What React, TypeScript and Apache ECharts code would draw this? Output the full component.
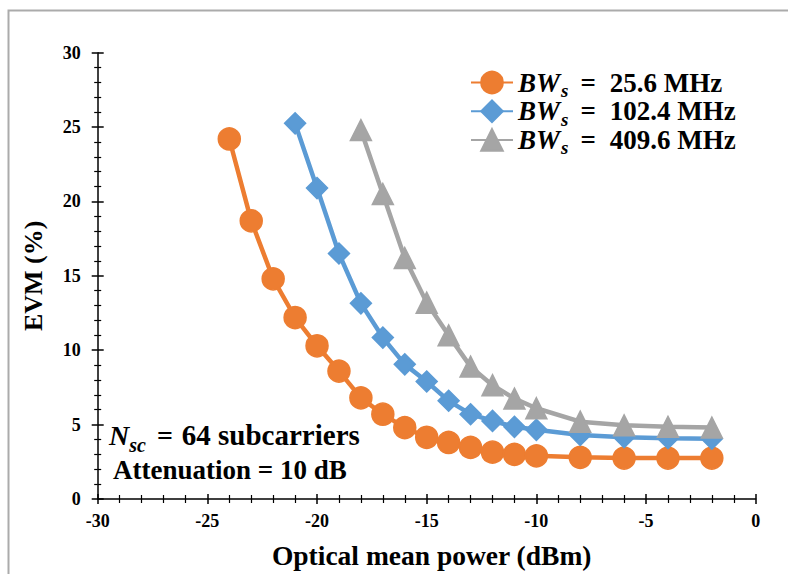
import React, { useEffect, useRef } from "react";
import * as echarts from "echarts";

const xOrange = [-24, -23, -22, -21, -20, -19, -18, -17, -16, -15, -14, -13, -12, -11, -10, -8, -6, -4, -2];
const yOrange = [24.2, 18.7, 14.8, 12.2, 10.3, 8.6, 6.8, 5.7, 4.8, 4.15, 3.8, 3.47, 3.15, 3.0, 2.9, 2.8, 2.75, 2.75, 2.75];

const xBlue = [-21, -20, -19, -18, -17, -16, -15, -14, -13, -12, -11, -10, -8, -6, -4, -2];
const yBlue = [25.25, 20.9, 16.5, 13.15, 10.85, 9.05, 7.9, 6.6, 5.7, 5.25, 4.85, 4.65, 4.3, 4.15, 4.08, 4.05];

const xGray = [-18, -17, -16, -15, -14, -13, -12, -11, -10, -8, -6, -4, -2];
const yGray = [24.8, 20.5, 16.2, 13.2, 11.0, 8.9, 7.65, 6.75, 6.1, 5.2, 4.95, 4.85, 4.8];

const seriesNames = ["BW25", "BW102", "BW409"];
const legendValues = ["25.6 MHz", "102.4 MHz", "409.6 MHz"];
const xTitle = "Optical mean power (dBm)";
const yTitle = "EVM (%)";
const note1 = ["N", "sc", "=", "64 subcarriers"];
const note2 = "Attenuation = 10 dB";

const FONT = "'Liberation Serif', 'Times New Roman', serif";
const ORANGE = "#ED7D31";
const BLUE = "#5B9BD5";
const GRAY = "#A5A5A5";

function pairs(xs: number[], ys: number[]) {
  return xs.map((x, i) => [x, ys[i]]);
}

export default function App() {
  const ref = useRef<HTMLDivElement>(null);
  useEffect(() => {
    if (!ref.current) return;
    const chart = echarts.init(ref.current, null, { renderer: "svg" });
    const mkSeries = (name: string, data: number[][], color: string, symbol: string, size: number) => ({
      name,
      type: "line",
      xAxisIndex: 0,
      yAxisIndex: 0,
      data,
      symbol,
      symbolSize: size,
      lineStyle: { color, width: 4.5 },
      itemStyle: { color, borderColor: color, borderWidth: 1.5 },
      z: 3,
    });
    const legendMap: Record<string, string> = {};
    seriesNames.forEach((n, i) => (legendMap[n] = legendValues[i]));
    const commonAxisLabel = {
      fontFamily: FONT,
      fontWeight: "bold",
      fontSize: 18,
      color: "#000",
    };
    chart.setOption({
      animation: false,
      backgroundColor: "#fff",
      grid: { left: 97.7, right: 32.3, top: 52.7, bottom: 74, containLabel: false },
      xAxis: [
        {
          type: "value",
          min: -30,
          max: 0,
          interval: 5,
          position: "bottom",
          axisLine: { show: true, onZero: false, lineStyle: { color: "#000", width: 1.5 } },
          axisTick: { show: true, length: 5, lineStyle: { color: "#000", width: 1.5 } },
          minorTick: { show: true, splitNumber: 5, length: 4, lineStyle: { color: "#000", width: 1.2 } },
          splitLine: { show: false },
          axisLabel: { ...commonAxisLabel, margin: 13 },
          name: xTitle,
          nameLocation: "middle",
          nameGap: 42,
          nameTextStyle: { fontFamily: FONT, fontWeight: "bold", fontSize: 27.5, color: "#000", padding: [0, 0, 0, 10] },
        },
        {
          type: "value",
          min: -30,
          max: 0,
          interval: 5,
          position: "bottom",
          axisLine: { show: false, onZero: false },
          axisTick: { show: true, inside: true, length: 5, lineStyle: { color: "#000", width: 1.5 } },
          minorTick: { show: true, splitNumber: 5, length: 4, lineStyle: { color: "#000", width: 1.2 } },
          splitLine: { show: false },
          axisLabel: { show: false },
        },
      ],
      yAxis: [
        {
          type: "value",
          min: 0,
          max: 30,
          interval: 5,
          position: "left",
          axisLine: { show: true, onZero: false, lineStyle: { color: "#000", width: 1.5 } },
          axisTick: { show: true, length: 6, lineStyle: { color: "#000", width: 1.5 } },
          minorTick: { show: true, splitNumber: 5, length: 3.5, lineStyle: { color: "#000", width: 1.2 } },
          splitLine: { show: false },
          axisLabel: { ...commonAxisLabel, margin: 17 },
          name: yTitle,
          nameLocation: "middle",
          nameGap: 51,
          nameRotate: 90,
          nameTextStyle: { fontFamily: FONT, fontWeight: "bold", fontSize: 26, color: "#000" },
        },
        {
          type: "value",
          min: 0,
          max: 30,
          interval: 5,
          position: "left",
          axisLine: { show: false, onZero: false },
          axisTick: { show: true, inside: true, length: 6, lineStyle: { color: "#000", width: 1.5 } },
          minorTick: { show: true, splitNumber: 5, length: 3.5, lineStyle: { color: "#000", width: 1.2 } },
          splitLine: { show: false },
          axisLabel: { show: false },
        },
      ],
      legend: {
        orient: "vertical",
        left: 465,
        top: 60,
        padding: 5,
        itemWidth: 42,
        itemHeight: 27,
        itemGap: -6.3,
        data: seriesNames,
        formatter: (name: string) => `{b|BW}{s|s}{e|=}{t|${legendMap[name]}}`,
        textStyle: {
          color: "#000",
          rich: {
            b: { fontFamily: FONT, fontWeight: "bold", fontStyle: "italic", fontSize: 27, lineHeight: 27, color: "#000" },
            s: { fontFamily: FONT, fontWeight: "bold", fontStyle: "italic", fontSize: 19, lineHeight: 27, padding: [16, 0, 0, 1], color: "#000" },
            e: { fontFamily: FONT, fontWeight: "bold", fontSize: 27, lineHeight: 27, padding: [0, 14, 0, 12], color: "#000" },
            t: { fontFamily: FONT, fontWeight: "bold", fontSize: 27, lineHeight: 27, color: "#000" },
          },
        },
      },
      graphic: [
        {
          type: "rect",
          shape: { x: 8.5, y: 10.5, width: 900, height: 700 },
          style: { fill: "none", stroke: "#ABABAB", lineWidth: 2 },
          silent: true,
          z: 0,
        },
        {
          type: "text",
          x: 109,
          y: 435,
          style: {
            text: `{n|${note1[0]}}{s|${note1[1]}}{e|${note1[2]}}{t|${note1[3]}}`,
            verticalAlign: "middle",
            align: "left",
            rich: {
              n: { fontFamily: FONT, fontWeight: "bold", fontStyle: "italic", fontSize: 28, lineHeight: 28, fill: "#000" },
              s: { fontFamily: FONT, fontWeight: "bold", fontStyle: "italic", fontSize: 20, lineHeight: 28, padding: [20, 0, 0, 0], fill: "#000" },
              e: { fontFamily: FONT, fontWeight: "bold", fontSize: 28, lineHeight: 28, padding: [0, 9, 0, 11], fill: "#000" },
              t: { fontFamily: FONT, fontWeight: "bold", fontSize: 29, lineHeight: 28, fill: "#000" },
            },
          },
          z: 10,
        },
        {
          type: "text",
          x: 113,
          y: 470,
          style: {
            text: note2,
            verticalAlign: "middle",
            align: "left",
            fontFamily: FONT,
            fontWeight: "bold",
            fontSize: 27,
            fill: "#000",
          },
          z: 10,
        },
      ],
      series: [
        mkSeries(seriesNames[0], pairs(xOrange, yOrange), ORANGE, "circle", 22),
        mkSeries(seriesNames[1], pairs(xBlue, yBlue), BLUE, "diamond", 21),
        mkSeries(seriesNames[2], pairs(xGray, yGray), GRAY, "triangle", 21),
      ],
    });
    return () => chart.dispose();
  }, []);
  return (
    <div
      ref={ref}
      style={{ position: "absolute", left: 0, top: 0, width: 788, height: 574, background: "#fff" }}
    />
  );
}
